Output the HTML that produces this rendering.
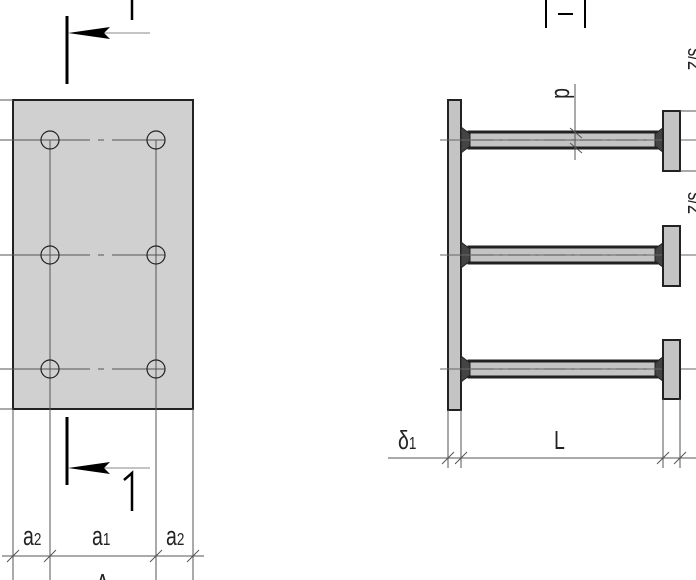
<!DOCTYPE html>
<html><head><style>html,body{margin:0;padding:0;background:#fff}svg{display:block}</style></head><body>
<svg width="696" height="580" xmlns="http://www.w3.org/2000/svg" font-family="Liberation Sans Narrow, Liberation Sans, sans-serif">
<defs>
<g id="rod">
  <rect x="469" y="-8" width="188" height="16" fill="#c4c4c4" stroke="#222" stroke-width="3"/>
  <polygon points="461,-13 470,-6 470,6 461,13" fill="#444" stroke="#222" stroke-width="1"/>
  <polygon points="664,-13 655,-6 655,6 664,13" fill="#444" stroke="#222" stroke-width="1"/>
  <line x1="440" y1="0" x2="696" y2="0" stroke="#666" stroke-width="1"/>
  <line x1="472" y1="0" x2="652" y2="0" stroke="#777" stroke-width="1.5" stroke-dasharray="22,5,4,5"/>
</g>
</defs>
<rect x="13" y="100" width="180" height="309" fill="#d0d0d0" stroke="#222" stroke-width="2"/>
<g stroke="#555" stroke-width="1">
<line x1="0" y1="100" x2="13" y2="100"/><line x1="0" y1="409" x2="13" y2="409"/>
<line x1="13" y1="409" x2="13" y2="580"/><line x1="193" y1="409" x2="193" y2="580"/>
<line x1="50" y1="140" x2="50" y2="580"/><line x1="156" y1="140" x2="156" y2="580"/>
<line x1="0" y1="140" x2="165" y2="140" stroke-dasharray="90,8,6,8"/>
<line x1="0" y1="255" x2="165" y2="255" stroke-dasharray="90,8,6,8"/>
<line x1="0" y1="369" x2="165" y2="369" stroke-dasharray="90,8,6,8"/>
<line x1="2" y1="556" x2="204" y2="556"/>
<line x1="7" y1="562" x2="19" y2="550"/><line x1="44" y1="562" x2="56" y2="550"/>
<line x1="150" y1="562" x2="162" y2="550"/><line x1="187" y1="562" x2="199" y2="550"/>
</g>
<g fill="none" stroke="#222" stroke-width="1.2">
<circle cx="50" cy="140" r="9"/><circle cx="156" cy="140" r="9"/>
<circle cx="50" cy="255" r="9"/><circle cx="156" cy="255" r="9"/>
<circle cx="50" cy="369" r="9"/><circle cx="156" cy="369" r="9"/>
</g>
<line x1="67" y1="16" x2="67" y2="84" stroke="#000" stroke-width="3"/>
<line x1="100" y1="33" x2="150" y2="33" stroke="#888" stroke-width="1"/>
<polygon points="68,33 110,27 104,33 110,39" fill="#000"/>
<line x1="132" y1="0" x2="132" y2="20" stroke="#000" stroke-width="2.5"/>
<line x1="67" y1="417" x2="67" y2="485" stroke="#000" stroke-width="3"/>
<line x1="100" y1="468" x2="150" y2="468" stroke="#888" stroke-width="1"/>
<polygon points="68,468 110,462 104,468 110,474" fill="#000"/>
<path d="M124,480 L132,473 L132,511" fill="none" stroke="#000" stroke-width="2.5"/>
<g font-size="26" fill="#222">
<text transform="translate(23,545) scale(0.75,1)">a<tspan font-size="18">2</tspan></text>
<text transform="translate(92,545) scale(0.75,1)">a<tspan font-size="18">1</tspan></text>
<text transform="translate(166,545) scale(0.75,1)">a<tspan font-size="18">2</tspan></text>
<text transform="translate(96,592) scale(0.75,1)">A</text>
</g>
<path d="M546,0 L546,28 M585,0 L585,28" stroke="#000" stroke-width="2"/>
<line x1="558" y1="14" x2="573" y2="14" stroke="#000" stroke-width="2"/>
<rect x="448" y="100" width="13" height="310" fill="#c4c4c4" stroke="#222" stroke-width="2"/>
<use href="#rod" transform="translate(0,140)"/>
<use href="#rod" transform="translate(0,255)"/>
<use href="#rod" transform="translate(0,369)"/>
<rect x="663" y="111" width="17" height="60" fill="#c4c4c4" stroke="#222" stroke-width="2"/>
<rect x="663" y="226" width="17" height="60" fill="#c4c4c4" stroke="#222" stroke-width="2"/>
<rect x="663" y="340" width="17" height="59" fill="#c4c4c4" stroke="#222" stroke-width="2"/>
<g stroke="#555" stroke-width="1">
<line x1="680" y1="111" x2="696" y2="111"/><line x1="680" y1="171" x2="696" y2="171"/>
<line x1="575" y1="84" x2="575" y2="160"/>
<line x1="570" y1="128" x2="582" y2="138"/><line x1="570" y1="143" x2="582" y2="153"/>
<line x1="448" y1="410" x2="448" y2="468"/><line x1="461" y1="410" x2="461" y2="468"/>
<line x1="663" y1="399" x2="663" y2="468"/><line x1="680" y1="399" x2="680" y2="468"/>
<line x1="388" y1="458" x2="696" y2="458"/>
<line x1="442" y1="464" x2="454" y2="452"/><line x1="455" y1="464" x2="467" y2="452"/>
<line x1="657" y1="464" x2="669" y2="452"/><line x1="674" y1="464" x2="686" y2="452"/>
</g>
<g font-size="26" fill="#222">
<text transform="translate(398,449) scale(0.75,1)">δ<tspan font-size="18">1</tspan></text>
<text transform="translate(554,449) scale(0.75,1)">L</text>
<text transform="translate(555,88) rotate(90) scale(0.75,1)">d</text>
<text transform="translate(688,48) rotate(90) scale(0.75,1)" font-size="22">s/2</text>
<text transform="translate(688,192) rotate(90) scale(0.75,1)" font-size="22">s/2</text>
</g>
</svg>
</body></html>
